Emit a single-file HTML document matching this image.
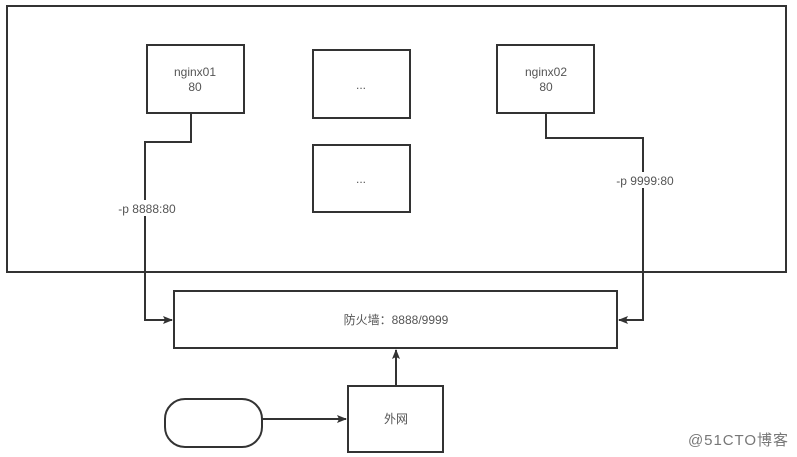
<!DOCTYPE html>
<html><head><meta charset="utf-8"><style>
body{margin:0;background:#fff;}
svg{display:block;}
text{font-family:"Liberation Sans","Noto Sans CJK SC",sans-serif;fill:#555;}
</style></head><body>
<svg width="797" height="457" viewBox="0 0 797 457" xmlns="http://www.w3.org/2000/svg">
<defs><marker id="a" markerWidth="10" markerHeight="8" refX="9" refY="4" orient="auto" markerUnits="userSpaceOnUse"><path d="M0,0 L10,4 L0,8 L2,4 Z" fill="#333"/></marker></defs>
<g fill="none" stroke="#333" stroke-width="2">
<rect x="7" y="6" width="779" height="266"/>
<rect x="147" y="45" width="97" height="68"/>
<rect x="313" y="50" width="97" height="68"/>
<rect x="313" y="145" width="97" height="67"/>
<rect x="497" y="45" width="97" height="68"/>
<rect x="174" y="291" width="443" height="57"/>
<rect x="348" y="386" width="95" height="66"/>
<rect x="165" y="399" width="97" height="48" rx="20"/>
<path d="M191,113 V142 H145 V320 H172" marker-end="url(#a)"/>
<path d="M546,113 V138 H643 V320 H619" marker-end="url(#a)"/>
<path d="M396,386 V350" marker-end="url(#a)"/>
<path d="M262,419 H346" marker-end="url(#a)"/>
</g>
<rect x="114" y="200" width="64" height="16" fill="#fff"/>
<rect x="613" y="172" width="64" height="16" fill="#fff"/>
<g font-size="12" text-anchor="middle">
<text x="195" y="76">nginx01</text><text x="195" y="91">80</text>
<text x="546" y="76">nginx02</text><text x="546" y="91">80</text>
<text x="361" y="89">...</text><text x="361" y="183">...</text>
<text x="147" y="213">-p 8888:80</text>
<text x="645" y="185">-p 9999:80</text>
<text x="396" y="324">防火墙：8888/9999</text>
<text x="396" y="423">外网</text>
</g>
<text x="688" y="445" font-size="15" textLength="100" style="fill:#777">@51CTO博客</text>
</svg>
</body></html>
